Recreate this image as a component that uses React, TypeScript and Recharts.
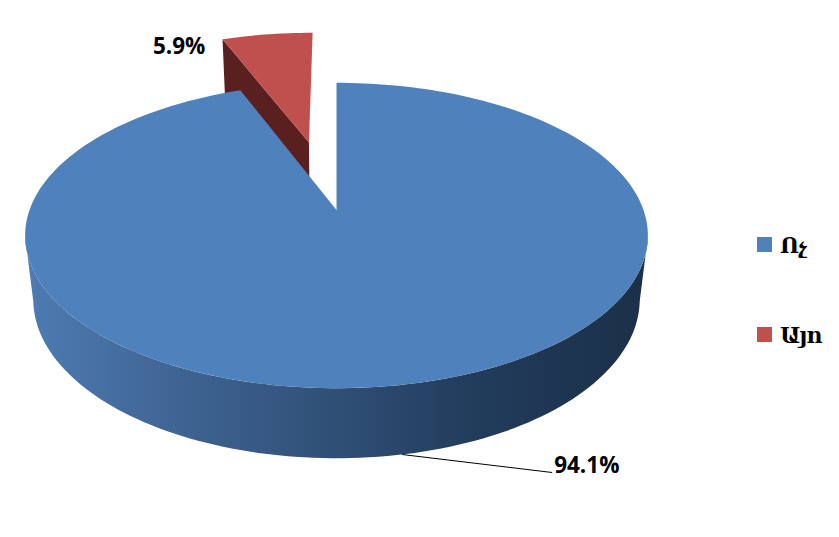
import React from "react";
import { PieChart, Pie, Legend } from "recharts";

const categories = ["Այո", "Ոչ"];
const shares = [5.9, 94.1];
const colors = ["#c0504d", "#4f81bd"];
const sideColors = ["#5a201f", "url(#blueWall)"];
const explosions = [0.5, 0];

const tableData = categories.map((name, i) => ({
  name,
  value: shares[i],
  fill: colors[i],
  side: sideColors[i],
  explode: explosions[i],
}));

const W = 839;
const H = 537;
const CX = 336.5;
const CY = 210;
const R = 307;
const START = 90 + shares[0] * 3.6;

// Oblique camera: perspective on the pie's plane
const P = 0.167;
const K = 0.4835;
const LOW_W = 1.026;
const LOW_T = 0.2112;
const EXPLODE_NUDGE = -0.005;
const rad = Math.PI / 180;

type Pt = { x: number; y: number };
function project(cx: number, cy: number, r: number, ux: number, uy: number, low: boolean): Pt {
  const w = (low ? LOW_W : 1) + P * uy;
  return {
    x: cx + (r * ux) / w,
    y: cy + (-K * r * uy + (low ? LOW_T * r : 0)) / w,
  };
}
const fmt = (p: Pt) => `${p.x.toFixed(2)},${p.y.toFixed(2)}`;

function samples(from: number, to: number) {
  const n = Math.max(2, Math.ceil(Math.abs(to - from) / 1.5));
  return Array.from({ length: n + 1 }, (_, i) => from + ((to - from) * i) / n);
}

function PieShape(props: any) {
  const { cx, cy, outerRadius, startAngle, endAngle, fill, payload } = props;
  const explode = payload?.explode ?? props.explode ?? 0;
  const side = payload?.side ?? props.side;
  const mid = ((startAngle + endAngle) / 2) * rad;
  const ox = explode * Math.cos(mid) + (explode > 0 ? EXPLODE_NUDGE : 0);
  const oy = explode * Math.sin(mid);
  const at = (deg: number, low = false) =>
    project(cx, cy, outerRadius, ox + Math.cos(deg * rad), oy + Math.sin(deg * rad), low);
  const apex = (low = false) => project(cx, cy, outerRadius, ox, oy, low);

  const top = `M${fmt(apex())} ` + samples(startAngle, endAngle).map((d) => `L${fmt(at(d))}`).join(" ") + " Z";

  let wall: string;
  if (explode > 0) {
    wall = `M${fmt(apex())} L${fmt(at(startAngle))} L${fmt(at(startAngle, true))} L${fmt(apex(true))} Z`;
  } else {
    const front = samples(-170, -10);
    wall =
      "M" +
      front.map((d) => fmt(at(d))).join(" L") +
      " L" +
      front
        .slice()
        .reverse()
        .map((d) => fmt(at(d, true)))
        .join(" L") +
      " Z";
  }
  return (
    <g>
      <path d={wall} fill={side} stroke="none" />
      <path d={top} fill={fill} stroke="none" />
    </g>
  );
}

const labelFont = { fontFamily: "'Open Sans', sans-serif", fontWeight: 700, fontSize: 22.5, fill: "#000" };

function PieLabel(props: any) {
  const { cx, cy, outerRadius, midAngle, payload, value } = props;
  const explode = payload?.explode ?? 0;
  const m = midAngle * rad;
  const ux = Math.cos(m);
  const uy = Math.sin(m);
  const text = `${(payload?.value ?? value).toFixed(1)}%`;
  if (explode > 0) {
    const a = project(cx, cy, outerRadius, ux * (1 + explode), uy * (1 + explode), false);
    return (
      <text x={a.x - 63} y={a.y + 20} textAnchor="end" {...labelFont}>
        {text}
      </text>
    );
  }
  const a = project(cx, cy, outerRadius, ux, uy, true);
  const end = { x: a.x + 150, y: a.y + 18 };
  return (
    <g>
      <line x1={a.x} y1={a.y} x2={end.x} y2={end.y} stroke="#000" strokeWidth={1} />
      <text x={end.x + 2} y={end.y} textAnchor="start" {...labelFont}>
        {text}
      </text>
    </g>
  );
}

function LegendBox({ payload }: any) {
  const rows = (payload ?? []).slice().reverse();
  return (
    <div>
      {rows.map((e: any) => (
        <div key={e.value} style={{ position: "relative", height: 90 }}>
          <span style={{ position: "absolute", left: 0, top: 0, width: 15, height: 15, background: e.color }} />
          <span
            style={{
              position: "absolute",
              left: 23,
              top: -7,
              lineHeight: "30px",
              fontFamily: "'DejaVu Serif', serif",
              fontWeight: 700,
              fontSize: 22,
              letterSpacing: "-1.2px",
              color: "#000",
              whiteSpace: "nowrap",
            }}
          >
            {e.value}
          </span>
        </div>
      ))}
    </div>
  );
}

export default function App() {
  return (
    <div style={{ position: "absolute", left: 0, top: 0, width: W, height: H }}>
      <PieChart width={W} height={H} margin={{ top: 0, right: 0, bottom: 0, left: 0 }}>
        <defs>
          <linearGradient id="blueWall" x1="0" y1="0" x2="1" y2="0">
            <stop offset="0" stopColor="#4d7cb3" />
            <stop offset="0.18" stopColor="#436a9b" />
            <stop offset="0.5" stopColor="#2f4f75" />
            <stop offset="0.72" stopColor="#223c5c" />
            <stop offset="1" stopColor="#1b3048" />
          </linearGradient>
        </defs>
        <Pie
          data={tableData}
          dataKey="value"
          nameKey="name"
          cx={CX}
          cy={CY}
          innerRadius={0}
          outerRadius={R}
          startAngle={START}
          endAngle={START - 360}
          shape={PieShape}
          label={PieLabel}
          labelLine={false}
          isAnimationActive={false}
        />
        <Legend
          content={LegendBox}
          layout="vertical"
          wrapperStyle={{ left: 757, top: 237, width: 82, height: 180, right: "auto", bottom: "auto" }}
        />
      </PieChart>
    </div>
  );
}
